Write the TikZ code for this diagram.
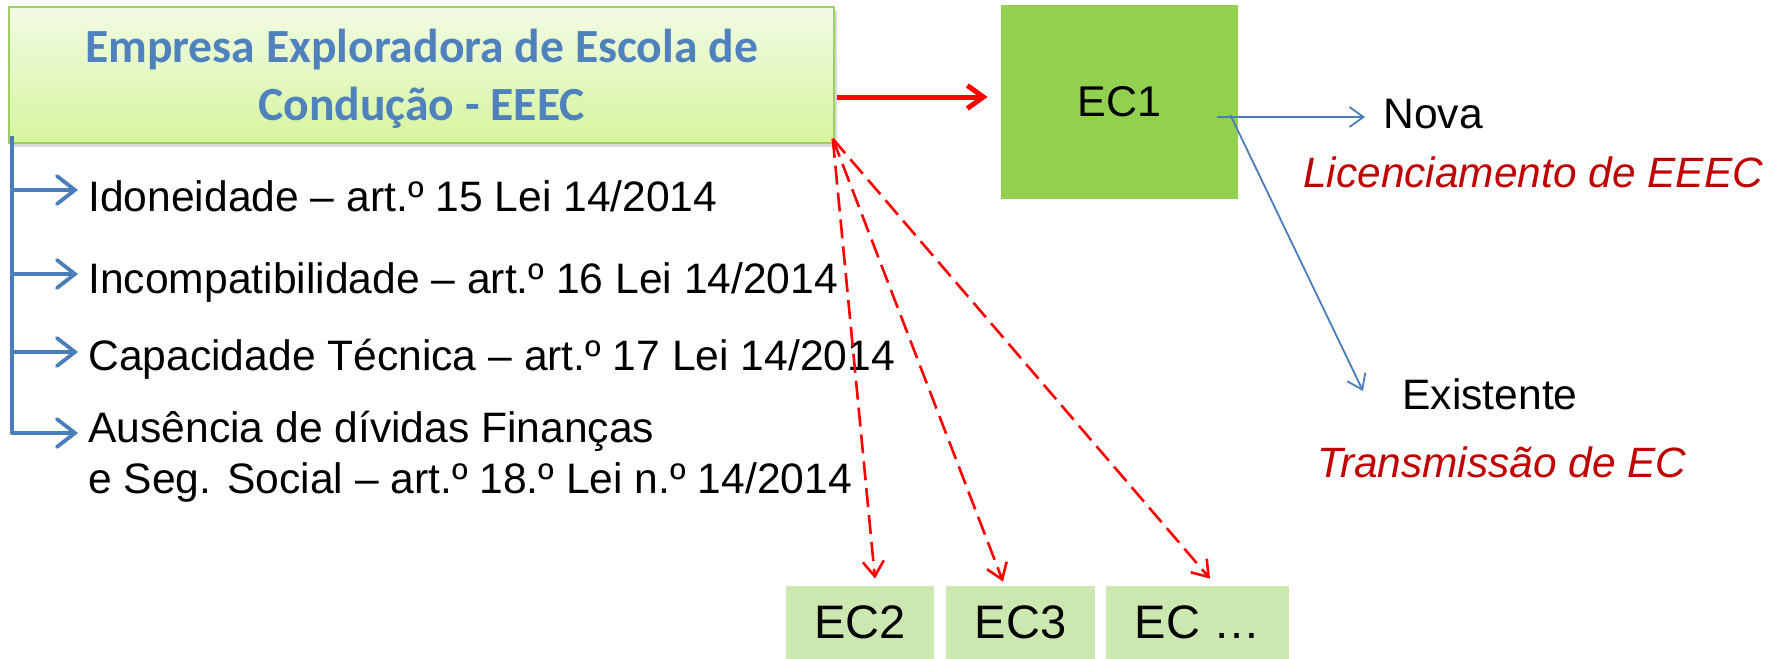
\documentclass[tikz,border=0pt]{standalone}
\usepackage{fontspec}
\setmainfont{Liberation Sans}
\newfontfamily\titlefont{Carlito}
\usetikzlibrary{arrows.meta,shadows}
\definecolor{ttlblue}{RGB}{79,129,189}
\definecolor{lnblue}{RGB}{74,126,187}
\definecolor{ecgreen}{RGB}{146,208,80}
\definecolor{ecpale}{RGB}{204,232,176}
\definecolor{boxtop}{RGB}{242,251,228}
\definecolor{boxbot}{RGB}{214,245,158}
\definecolor{boxline}{RGB}{160,205,95}
\definecolor{darkred}{RGB}{192,0,0}
\tikzset{
  txt/.style={inner sep=0pt, font=\fontsize{21.3}{25}\selectfont},
  redtxt/.style={txt, text=darkred, font=\fontsize{21.2}{25}\selectfont\itshape},
  bracketarrow/.style={draw=lnblue, line width=1.9pt, line join=round,
    -{Straight Barb[length=9pt,width=14pt,line cap=round]}},
  thinarrow/.style={draw=lnblue, line width=0.9pt,
    -{Straight Barb[length=7pt,width=10pt]}},
  redarrow/.style={draw=red, line width=2.5pt,
    -{Straight Barb[length=8pt,width=11.5pt]}},
  dasharrow/.style={draw=red, line width=1.3pt, dash pattern=on 9.5pt off 4pt,
    -{Straight Barb[length=7.5pt,width=10.5pt]}},
  ecsmall/.style={fill=ecpale, inner sep=0pt, minimum height=36.5pt,
    font=\fontsize{23.5}{27}\selectfont}
}
\begin{document}
\begin{tikzpicture}[x=0.5pt,y=-0.5pt]
\useasboundingbox (0,0) rectangle (1779,659);
% title box
\node[draw=boxline, line width=0.8pt, top color=boxtop, bottom color=boxbot,
      minimum width=412.5pt, minimum height=68pt, inner sep=0pt,
      drop shadow={shadow xshift=1.5pt, shadow yshift=-2pt, opacity=0.3}]
  (title) at (421.5,75) {};
\node[align=center, text=ttlblue, inner sep=0pt,
      font=\titlefont\bfseries\fontsize{23.8}{28.8}\selectfont]
  (titletext) at ([yshift=-2pt]title.center) {Empresa Exploradora de Escola de\\Condução - EEEC};
% EC1
\node[fill=ecgreen, minimum width=118.5pt, minimum height=97pt, inner sep=0pt,
      font=\fontsize{21.5}{25}\selectfont] (ec1) at (1119.5,102) {EC1};
% bottom boxes
\node[ecsmall, minimum width=74pt] (ec2) at (860,622.5) {EC2};
\node[ecsmall, minimum width=74.5pt] (ec3) at (1020.5,622.5) {EC3};
\node[ecsmall, minimum width=91.5pt] (ecn) at (1197.5,622.5) {EC …};
% list items
\node[txt, anchor=base west] (i1) at (88,211) {Idoneidade – art.º 15 Lei 14/2014};
\node[txt, anchor=base west] (i2) at (88,293) {Incompatibilidade – art.º 16 Lei 14/2014};
\node[txt, anchor=base west] (i3) at (88,370) {Capacidade Técnica – art.º 17 Lei 14/2014};
\node[txt, anchor=base west] (i4) at (88,442) {Ausência de dívidas Finanças};
\node[txt, anchor=base west] (i4b) at (88,493) {e Seg. Social – art.º 18.º Lei n.º 14/2014};
% right texts
\node[txt, anchor=base west] (nova) at (1383,128) {Nova};
\node[redtxt, anchor=base west] (lic) at (1303,187) {Licenciamento de EEEC};
\node[txt, anchor=base west] (exist) at (1402,409) {Existente};
\node[redtxt, anchor=base west] (trans) at (1317,477) {Transmissão de EC};
% bracket
\coordinate (trunk) at ([xshift=2pt,yshift=4pt]title.south west);
\draw[bracketarrow] (trunk) |- ([shift={(-5pt,10.5pt)}]i1.base west);
\draw[bracketarrow] (trunk) |- ([shift={(-5pt,9.5pt)}]i2.base west);
\draw[bracketarrow] (trunk) |- ([shift={(-5pt,9pt)}]i3.base west);
\draw[bracketarrow] (trunk) |- ([shift={(-5pt,4.5pt)}]i4.base west);
% red solid arrow
\draw[redarrow] ([xshift=1pt,yshift=2.5pt]title.east |- ec1.west) -- ([xshift=-6.5pt,yshift=2.5pt]ec1.west);
% red dashed arrows
\draw[dasharrow] ([shift={(-1pt,2.5pt)}]title.south east) -- ([shift={(7.5pt,3.5pt)}]ec2.north);
\draw[dasharrow] ([shift={(-1pt,2.5pt)}]title.south east) -- ([shift={(-8.75pt,2pt)}]ec3.north);
\draw[dasharrow] ([shift={(-1pt,2.5pt)}]title.south east) -- ([shift={(6.25pt,3.5pt)}]ecn.north);
% blue thin arrows
\draw[thinarrow] ([shift={(-10.5pt,-7.5pt)}]ec1.east) -- ([shift={(-9pt,5.5pt)}]nova.base west);
\draw[thinarrow] ([shift={(-4pt,-6.5pt)}]ec1.east) -- ([shift={(-19.5pt,9pt)}]exist.base west);
\end{tikzpicture}
\end{document}
